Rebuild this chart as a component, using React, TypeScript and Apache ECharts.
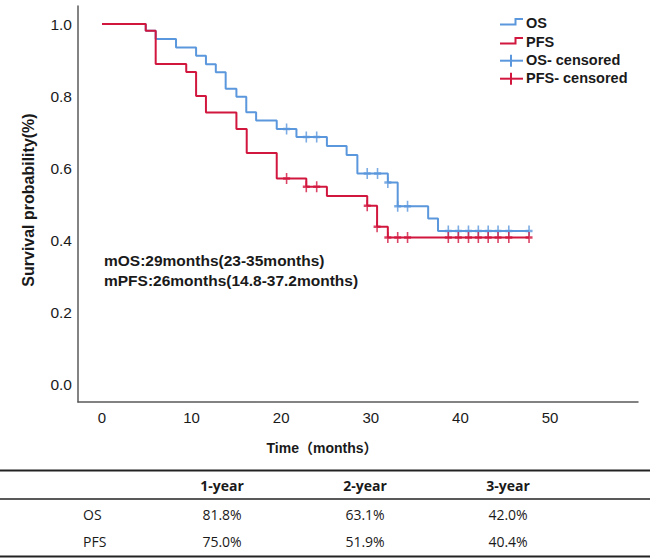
import React, { useEffect, useRef } from "react";
import * as echarts from "echarts";

// ---- Data ----
const osTimes = [0, 4.88, 5.99, 8.26, 10.5, 11.6, 12.7, 13.8, 15.0, 16.1, 17.2, 19.5, 21.7, 25.1, 27.3, 28.5, 31.9, 33.0, 36.4, 37.5, 47.66];
const osSurv = [1.0, 0.981, 0.958, 0.935, 0.912, 0.888, 0.866, 0.82, 0.798, 0.755, 0.732, 0.708, 0.686, 0.661, 0.636, 0.585, 0.56, 0.494, 0.46, 0.425, 0.425];
const osCensorTimes = [20.6, 22.8, 23.96, 29.6, 30.75, 31.9, 33.0, 34.1, 38.65, 39.77, 40.9, 42.0, 43.1, 44.2, 45.4, 47.66];

const pfsTimes = [0, 4.88, 5.99, 9.4, 10.5, 11.6, 15.0, 16.15, 19.5, 22.8, 25.1, 29.6, 30.7, 31.9, 47.66];
const pfsSurv = [1.0, 0.981, 0.889, 0.867, 0.8, 0.754, 0.708, 0.642, 0.571, 0.548, 0.522, 0.495, 0.437, 0.407, 0.407];
const pfsCensorTimes = [20.6, 22.8, 23.96, 29.6, 30.7, 31.9, 33.0, 34.1, 38.65, 39.77, 40.9, 42.0, 43.1, 44.2, 45.4, 47.66];

const xTickValues = [0, 10, 20, 30, 40, 50];
const yTickValues = [0, 0.2, 0.4, 0.6, 0.8, 1.0];

const legendNames = ["OS", "PFS", "OS- censored", "PFS- censored"];
const annotations = ["mOS:29months(23-35months)", "mPFS:26months(14.8-37.2months)"];
const xAxisTitle = "Time（months）";
const yAxisTitle = "Survival probability(%)";

const tableCols = ["1-year", "2-year", "3-year"];
const tableRows = ["OS", "PFS"];
const osRates = ["81.8%", "63.1%", "42.0%"];
const pfsRates = ["75.0%", "51.9%", "40.4%"];

// ---- Styles ----
const BLUE = "#5b97dc";
const RED = "#d2173f";
const AXIS = "#5a5a5a";
const TXT = "#1a1a1a";
const FONT = "'Liberation Sans', Arial, 'Noto Sans CJK SC', sans-serif";
const TFONT = "'Open Sans', 'Noto Sans', sans-serif";

function survAt(times: number[], surv: number[], t: number) {
  let s = surv[0];
  for (let i = 0; i < times.length; i++) {
    if (times[i] <= t + 1e-9) s = surv[i];
  }
  return s;
}

const PLUS = "path://M5,0L5,10M0,5L10,5";

export default function App() {
  const ref = useRef<HTMLDivElement>(null);

  useEffect(() => {
    if (!ref.current) return;
    const chart = echarts.init(ref.current, null, { renderer: "svg" });

    const osLine = osTimes.map((t, i) => [t, osSurv[i]]);
    const pfsLine = pfsTimes.map((t, i) => [t, pfsSurv[i]]);
    const osCens = osCensorTimes.map((t) => [t, survAt(osTimes, osSurv, t)]);
    const pfsCens = pfsCensorTimes.map((t) => [t, survAt(pfsTimes, pfsSurv, t)]);

    const txt = (text: string, x: number, y: number, font: string, align = "left", extra: any = {}) => ({
      type: "text",
      x,
      y,
      ...extra,
      style: {
        text,
        fill: TXT,
        font,
        textAlign: align,
        textVerticalAlign: "middle",
        align,
        verticalAlign: "middle",
      },
    });

    const graphics: any[] = [];

    // Legend
    const legY = [23, 41.5, 60, 78];
    graphics.push({
      type: "polyline",
      shape: { points: [[500, 24.5], [515.5, 24.5], [515.5, 19], [523, 19]] },
      style: { stroke: BLUE, lineWidth: 2, fill: "none" },
    });
    graphics.push({
      type: "polyline",
      shape: { points: [[500, 43.5], [515.5, 43.5], [515.5, 38], [523, 38]] },
      style: { stroke: RED, lineWidth: 2, fill: "none" },
    });
    [BLUE, RED].forEach((c, k) => {
      const yy = legY[2 + k];
      graphics.push({ type: "line", shape: { x1: 500, y1: yy + 0.7, x2: 523, y2: yy + 0.7 }, style: { stroke: c, lineWidth: 2 } });
      graphics.push({ type: "line", shape: { x1: 511, y1: yy - 5.3, x2: 511, y2: yy + 6.7 }, style: { stroke: c, lineWidth: 2 } });
    });
    legendNames.forEach((n, i) => {
      graphics.push(txt(n, 526, legY[i], `bold 14.5px ${FONT}`));
    });

    // Annotations
    graphics.push(txt(annotations[0], 104, 260, `bold 15.5px ${FONT}`));
    graphics.push(txt(annotations[1], 104, 280, `bold 15.5px ${FONT}`));

    // Axis titles
    graphics.push(txt(xAxisTitle, 322, 448, `bold 14px ${FONT}`, "center"));
    graphics.push(txt(yAxisTitle, 28, 200, `bold 16px ${FONT}`, "center", { rotation: Math.PI / 2 }));

    // Table
    const colX = [222, 365, 508];
    const headerY = 485;
    const rowY = [514, 541];
    graphics.push({ type: "line", shape: { x1: 0, y1: 470.5, x2: 650, y2: 470.5 }, style: { stroke: "#222", lineWidth: 2 } });
    graphics.push({ type: "line", shape: { x1: 0, y1: 499, x2: 650, y2: 499 }, style: { stroke: "#222", lineWidth: 1.3 } });
    graphics.push({ type: "line", shape: { x1: 0, y1: 556.5, x2: 650, y2: 556.5 }, style: { stroke: "#222", lineWidth: 1.8 } });
    tableCols.forEach((c, j) => graphics.push(txt(c, colX[j], headerY, `bold 14px ${TFONT}`, "center")));
    const rates = [osRates, pfsRates];
    tableRows.forEach((r, i) => {
      graphics.push(txt(r, 83, rowY[i], `14px ${TFONT}`));
      rates[i].forEach((v, j) => graphics.push(txt(v, colX[j], rowY[i], `14px ${TFONT}`, "center")));
    });

    chart.setOption({
      animation: false,
      backgroundColor: "#ffffff",
      grid: { left: 78, top: 6, width: 560, height: 396, containLabel: false },
      xAxis: {
        type: "value",
        min: -2.68,
        max: 59.82,
        splitLine: { show: false },
        axisTick: { show: false },
        axisLine: { show: true, onZero: false, lineStyle: { color: AXIS, width: 1.5 } },
        axisLabel: {
          customValues: xTickValues,
          margin: 8,
          color: TXT,
          fontSize: 15,
          fontFamily: FONT,
        },
      },
      yAxis: {
        type: "value",
        min: -0.05,
        max: 1.05,
        splitLine: { show: false },
        axisTick: { show: false },
        axisLine: { show: true, onZero: false, lineStyle: { color: AXIS, width: 1.5 } },
        axisLabel: {
          customValues: yTickValues,
          margin: 6,
          color: TXT,
          fontSize: 15.5,
          fontFamily: FONT,
          formatter: (v: number) => v.toFixed(1),
        },
      },
      series: [
        {
          name: "OS",
          type: "line",
          step: "end",
          data: osLine,
          symbol: "none",
          lineStyle: { color: BLUE, width: 2 },
          z: 2,
        },
        {
          name: "OS- censored",
          type: "scatter",
          data: osCens,
          symbol: PLUS,
          symbolSize: [7, 11],
          itemStyle: { color: "transparent", borderColor: BLUE, borderWidth: 2 },
          z: 3,
        },
        {
          name: "PFS",
          type: "line",
          step: "end",
          data: pfsLine,
          symbol: "none",
          lineStyle: { color: RED, width: 2 },
          z: 4,
        },
        {
          name: "PFS- censored",
          type: "scatter",
          data: pfsCens,
          symbol: PLUS,
          symbolSize: [7, 11],
          itemStyle: { color: "transparent", borderColor: RED, borderWidth: 2 },
          z: 5,
        },
      ],
      graphic: { elements: graphics },
    });

    return () => chart.dispose();
  }, []);

  return (
    <div
      ref={ref}
      style={{ position: "fixed", left: 0, top: 0, width: 650, height: 560, background: "#fff" }}
    />
  );
}
